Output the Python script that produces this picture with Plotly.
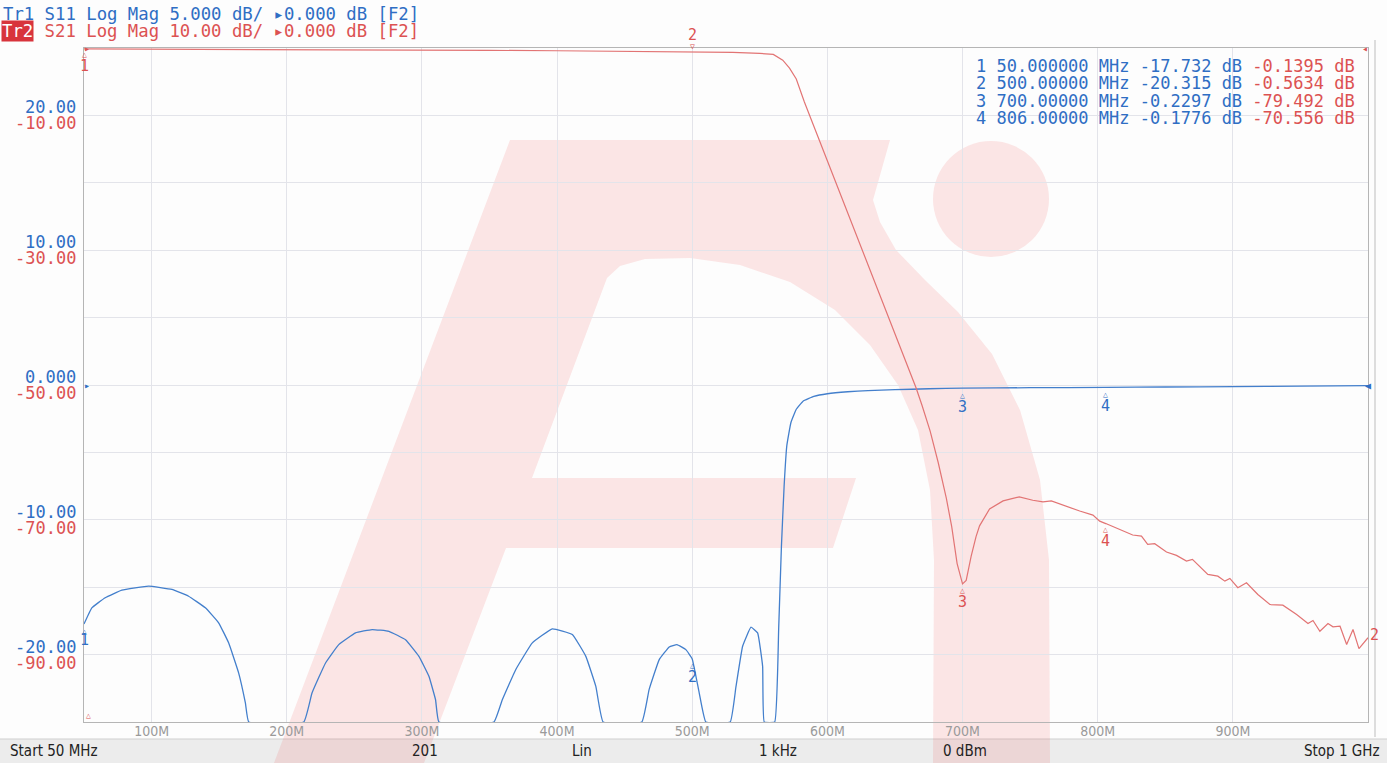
import plotly.graph_objects as go

# ---------------- data ----------------
# Trace 1: S11 (dB), 5 dB/div, reference 0 dB at centre line
S11_FREQ_MHZ = [50, 55.8, 65.7, 78.0, 97.8, 115.0, 127.4, 139.8, 149.6, 157.0, 164.4, 169.4, 171.9,
                212.6, 218.7, 228.7, 238.5, 250.9, 263.2, 275.6, 287.9, 297.8, 305.2, 310.1, 312.6,
                353.3, 359.5, 369.4, 381.7, 396.5, 411.3, 421.3, 428.7, 434.1,
                462.7, 468.1, 475.6, 483.0, 488.7, 495.3, 500.0, 505.2, 510.1,
                528.1, 532.4, 537.3, 543.5, 548.4, 552.1, 553.3,
                561, 564, 566, 568, 570, 573, 577, 582, 590, 600, 615, 630, 650, 675, 700,
                750, 806, 850, 900, 950, 1000]
S11_DB = [-17.73, -16.53, -15.78, -15.22, -14.92, -15.17, -15.67, -16.53, -17.64, -19.13, -21.36, -23.59, -25,
          -25, -22.85, -20.62, -19.26, -18.39, -18.14, -18.27, -18.9, -20.13, -21.61, -23.35, -25,
          -25, -23.35, -21.12, -19.13, -18.09, -18.51, -20.13, -22.36, -25,
          -25, -22.6, -20.37, -19.43, -19.26, -19.63, -20.32, -22.85, -25,
          -25, -22.36, -19.38, -17.97, -18.39, -20.87, -25,
          -25, -18, -12, -7.5, -4.5, -2.8, -1.8, -1.2, -0.85, -0.65, -0.5, -0.42, -0.35, -0.28, -0.23,
          -0.2, -0.178, -0.15, -0.12, -0.09, -0.05]

# Trace 2: S21 (dB), 10 dB/div, reference 0 dB at top line
S21_FREQ_MHZ = [50, 100, 150, 200, 250, 300, 350, 400, 450, 500, 530, 550, 560, 567, 572, 577, 583, 590,
                600, 610, 620, 630, 640, 650, 660, 665.6, 670, 676, 682, 688, 692, 696, 700, 702.7, 706.4,
                710, 712.6, 720, 730, 742, 752, 759.5, 765.7, 776.8, 786.7,
                796.5, 801.5, 806, 816.3, 825.9, 832.4, 837.0, 842.2, 850.9, 858.3, 865.7, 870.1, 875.6,
                881.5, 888.9, 894.1, 897.8, 903.7, 910.1, 918.5, 927.4, 937.0, 947.2, 955.6, 959.3, 964.4,
                970.4, 974.1, 979.3, 984.2, 988.9, 993.3, 1000]
S21_DB = [-0.14, -0.16, -0.19, -0.22, -0.26, -0.3, -0.35, -0.41, -0.48, -0.56, -0.65, -0.8, -0.95, -1.8,
          -3.0, -4.6, -8.0, -11.6, -16.7, -21.8, -27.0, -32.1, -37.2, -42.3, -47.4, -50.4, -53.0, -56.8,
          -61.5, -66.8, -71.0, -76.5, -79.5, -79.0, -75.4,
          -72.5, -70.9, -68.4, -67.2, -66.6, -67.1, -67.35, -67.2, -68.0, -68.7,
          -69.3, -70.2, -70.56, -71.41, -72.26, -72.41, -73.64, -73.54, -74.79, -75.28, -76.13, -75.87,
          -76.96, -78.10, -78.36, -79.10, -78.70, -80.08, -79.34, -81.08, -82.57, -82.67, -84.05, -85.39,
          -84.94, -86.54, -85.39, -85.88, -85.79, -88.51, -86.28, -89.11, -87.5]

MARKER_NUM = ["1", "2", "3", "4"]
MARKER_FREQ_MHZ = [50.0, 500.0, 700.0, 806.0]
MARKER_S11_DB = [-17.732, -20.315, -0.2297, -0.1776]
MARKER_S21_DB = [-0.1395, -0.5634, -79.492, -70.556]
MARKER_FREQ_TEXT = ["50.000000", "500.00000", "700.00000", "806.00000"]
MARKER_S11_TEXT = ["-17.732", "-20.315", "-0.2297", "-0.1776"]
MARKER_S21_TEXT = ["-0.1395", "-0.5634", "-79.492", "-70.556"]

X_TICK_VALS = [100, 200, 300, 400, 500, 600, 700, 800, 900]
X_TICK_TEXT = ["100M", "200M", "300M", "400M", "500M", "600M", "700M", "800M", "900M"]
S11_LABEL_VALS = [20, 10, 0, -10, -20]
S11_LABEL_TEXT = ["20.00", "10.00", "0.000", "-10.00", "-20.00"]
S21_LABEL_VALS = [-10, -30, -50, -70, -90]
S21_LABEL_TEXT = ["-10.00", "-30.00", "-50.00", "-70.00", "-90.00"]

HEADER_1 = "Tr1 S11 Log Mag 5.000 dB/ \u25b80.000 dB [F2]"
HEADER_2 = "Tr2 S21 Log Mag 10.00 dB/ \u25b80.000 dB [F2]"
STATUS_TEXT = ["Start 50 MHz", "201", "Lin", "1 kHz", "0 dBm", "Stop 1 GHz"]

assert len(S11_FREQ_MHZ) == len(S11_DB)
assert len(S21_FREQ_MHZ) == len(S21_DB)

# ---------------- layout constants ----------------
W, H = 1387, 763
L, T, PW, PH = 84, 48, 1284, 674
BLUE_LINE = "#437fcc"
RED_LINE = "#e27474"
BLUE_TEXT = "#2f6ec4"
RED_TEXT = "#dc5252"
GRID = "#e3e4ea"
MONO = "DejaVu Sans Mono, Liberation Mono, monospace"
NARROW = "Liberation Sans Narrow, DejaVu Sans Condensed, Liberation Sans, sans-serif"


def fx(px):
    return (px - L) / PW


def fy(py):
    return (T + PH - py) / PH


fig = go.Figure()
fig.add_trace(go.Scatter(x=S11_FREQ_MHZ, y=S11_DB, mode="lines", yaxis="y",
                         line=dict(color=BLUE_LINE, width=1.3, shape="spline", smoothing=0.3),
                         showlegend=False, hoverinfo="skip"))
fig.add_trace(go.Scatter(x=S21_FREQ_MHZ, y=S21_DB, mode="lines", yaxis="y2",
                         line=dict(color=RED_LINE, width=1.2), showlegend=False, hoverinfo="skip"))

shapes = []
# status bar
shapes.append(dict(type="rect", xref="paper", yref="paper", x0=fx(0), x1=fx(W), y0=fy(H), y1=fy(739),
                   fillcolor="#ececec", line=dict(width=0), layer="below"))
shapes.append(dict(type="line", xref="paper", yref="paper", x0=fx(0), x1=fx(W), y0=fy(739), y1=fy(739),
                   line=dict(color="#cfcfcf", width=1), layer="below"))
# watermark logo (decorative)
WM_OUTLINE = [(274, 763), (510, 140), (890, 140), (873, 200), (880, 222), (896, 250), (925, 280),
              (958, 312), (992, 354), (1020, 410), (1040, 480), (1049, 560), (1050, 763), (933, 763),
              (934, 560), (930, 490), (918, 430), (898, 385), (870, 345), (835, 310), (790, 282),
              (740, 265), (690, 258), (645, 259), (620, 266), (607, 278), (532, 478), (856, 478),
              (833, 548), (506, 548), (424, 763)]
path = "M " + " L ".join(f"{fx(a):.5f},{fy(b):.5f}" for a, b in WM_OUTLINE) + " Z"
shapes.append(dict(type="path", xref="paper", yref="paper", path=path,
                   fillcolor="rgba(236,60,60,0.12)", line=dict(width=0), layer="below"))
shapes.append(dict(type="circle", xref="paper", yref="paper", x0=fx(933), x1=fx(1049), y0=fy(257),
                   y1=fy(141), fillcolor="rgba(236,60,60,0.12)", line=dict(width=0), layer="below"))
# outer frame line at the right
shapes.append(dict(type="line", xref="paper", yref="paper", x0=fx(1375), x1=fx(1375), y0=fy(737),
                   y1=fy(40), line=dict(color="#bdbdbd", width=1)))

ann = []
# header
ann.append(dict(xref="paper", yref="paper", x=fx(1), y=fy(14), xanchor="left", yanchor="middle",
                text=HEADER_1, showarrow=False, font=dict(family=MONO, size=17.3, color=BLUE_TEXT)))
ann.append(dict(xref="paper", yref="paper", x=fx(1), y=fy(31), xanchor="left", yanchor="middle",
                text=HEADER_2, showarrow=False, font=dict(family=MONO, size=17.3, color=RED_TEXT)))
ann.append(dict(xref="paper", yref="paper", x=fx(1), y=fy(31), xanchor="left", yanchor="middle",
                text=HEADER_2[:3], showarrow=False, bgcolor="#d8343c", borderpad=0,
                font=dict(family=MONO, size=17.3, color="white")))
# marker table
NB = "\u00a0"
for i, n in enumerate(MARKER_NUM):
    txt = (f"{n}{NB}{MARKER_FREQ_TEXT[i]}{NB}MHz{NB}{MARKER_S11_TEXT[i]}{NB}dB{NB}"
           f"<span style='color:{RED_TEXT}'>{MARKER_S21_TEXT[i]}{NB}dB</span>")
    ann.append(dict(xref="paper", yref="paper", x=fx(974), y=fy(66 + 17.3 * i), xanchor="left",
                    yanchor="middle", text=txt, showarrow=False,
                    font=dict(family=MONO, size=17, color=BLUE_TEXT)))
# dual y labels
for v, t in zip(S11_LABEL_VALS, S11_LABEL_TEXT):
    ann.append(dict(xref="paper", yref="y", x=0, y=v, xanchor="right", yanchor="middle", xshift=-6,
                    yshift=8, text=t, showarrow=False, font=dict(family=MONO, size=17, color=BLUE_TEXT)))
for v, t in zip(S21_LABEL_VALS, S21_LABEL_TEXT):
    ann.append(dict(xref="paper", yref="y2", x=0, y=v, xanchor="right", yanchor="middle", xshift=-6,
                    yshift=-8, text=t, showarrow=False, font=dict(family=MONO, size=17, color=RED_TEXT)))

# marker flags
S11_NUM_SHIFT = [-16, -18, -19, -19]
S21_NUM_SHIFT = [-17, 17, -18, -17]
S21_TRI = ["\u25b3", "\u25bd", "\u25b3", "\u25b3"]
S21_TRI_SHIFT = [-6, 5, -7, -6]
for i, n in enumerate(MARKER_NUM):
    f = MARKER_FREQ_MHZ[i]
    ann.append(dict(xref="x", yref="y", x=f, y=MARKER_S11_DB[i], yshift=-7, text="\u25b3",
                    showarrow=False, font=dict(family=MONO, size=8, color=BLUE_TEXT)))
    ann.append(dict(xref="x", yref="y", x=f, y=MARKER_S11_DB[i], yshift=S11_NUM_SHIFT[i], text=n,
                    showarrow=False, font=dict(family=MONO, size=15, color=BLUE_TEXT)))
    ann.append(dict(xref="x", yref="y2", x=f, y=MARKER_S21_DB[i], yshift=S21_TRI_SHIFT[i], text=S21_TRI[i],
                    showarrow=False, font=dict(family=MONO, size=8, color=RED_TEXT)))
    ann.append(dict(xref="x", yref="y2", x=f, y=MARKER_S21_DB[i], yshift=S21_NUM_SHIFT[i], text=n,
                    showarrow=False, font=dict(family=MONO, size=15, color=RED_TEXT)))
# trace end labels / reference arrows
ann.append(dict(xref="x", yref="y2", x=S21_FREQ_MHZ[-1], y=S21_DB[-1], xanchor="left", xshift=0, yshift=3,
                text="2", showarrow=False, font=dict(family=MONO, size=15, color=RED_TEXT)))
ann.append(dict(xref="x", yref="y", x=S11_FREQ_MHZ[-1], y=0, text="\u25c0", showarrow=False,
                font=dict(family=MONO, size=10, color=BLUE_TEXT)))
ann.append(dict(xref="paper", yref="y", x=0, y=0, xanchor="left", xshift=-2, text="\u25b8", showarrow=False,
                font=dict(family=MONO, size=10, color=BLUE_TEXT)))
ann.append(dict(xref="paper", yref="y2", x=0, y=0, xanchor="left", xshift=-2, text="\u25b8", showarrow=False,
                font=dict(family=MONO, size=10, color=RED_TEXT)))
ann.append(dict(xref="paper", yref="y2", x=1, y=0, xanchor="right", xshift=2, text="\u25c2", showarrow=False,
                font=dict(family=MONO, size=10, color=RED_TEXT)))
ann.append(dict(xref="paper", yref="y2", x=0, y=-100, yanchor="bottom", text="\u25b3", showarrow=False,
                font=dict(family=MONO, size=8, color=RED_TEXT)))

# status bar text
STATUS_X = [8, 425, 582, 778, 965, 1382]
STATUS_ANCHOR = ["left", "center", "center", "center", "center", "right"]
for t, xp, a in zip(STATUS_TEXT, STATUS_X, STATUS_ANCHOR):
    ann.append(dict(xref="paper", yref="paper", x=fx(xp), y=fy(751), xanchor=a, yanchor="middle", text=t,
                    showarrow=False, font=dict(family=NARROW, size=15, color="#222222")))

fig.update_layout(
    width=W, height=H, margin=dict(l=L, r=W - L - PW, t=T, b=H - T - PH),
    paper_bgcolor="#fdfdfd", plot_bgcolor="rgba(0,0,0,0)",
    shapes=shapes, annotations=ann, showlegend=False,
    xaxis=dict(range=[50, 1000], tickmode="array", tickvals=X_TICK_VALS, ticktext=X_TICK_TEXT,
               showgrid=True, gridcolor=GRID, gridwidth=1, zeroline=False, showline=True,
               linecolor="#b5b5b5", linewidth=1, mirror=True, ticks="", ticklabelstandoff=-4,
               tickfont=dict(family=NARROW, size=14, color="#9a9a9a")),
    yaxis=dict(range=[-25, 25], tick0=-25, dtick=5, showgrid=True, gridcolor=GRID, gridwidth=1,
               zeroline=False, showline=True, linecolor="#b5b5b5", linewidth=1, mirror=True,
               showticklabels=False, ticks=""),
    yaxis2=dict(range=[-100, 0], overlaying="y", visible=False),
)

fig.write_html("out.html", config={"displayModeBar": False},
               post_script="document.body.style.margin='0';")
